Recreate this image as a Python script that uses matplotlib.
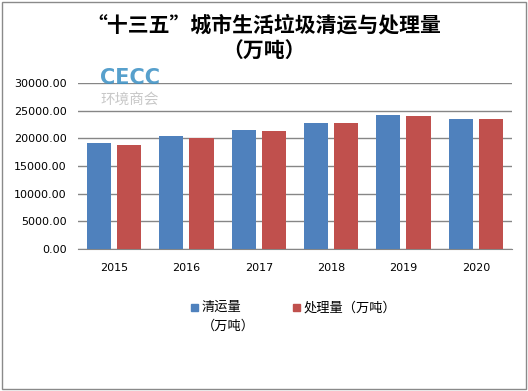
import numpy as np
import matplotlib.pyplot as plt
from matplotlib.patches import Rectangle

plt.rcParams['font.family'] = ['DejaVu Sans', 'Noto Sans CJK SC']

# --------------------
# Data
# --------------------
years = ["2015", "2016", "2017", "2018", "2019", "2020"]
collected = [19190, 20460, 21540, 22810, 24260, 23540]   # 清运量
treated = [18830, 20100, 21370, 22800, 24080, 23500]     # 处理量
series_names = ["清运量\n（万吨）", "处理量（万吨）"]
colors = ["#4F81BD", "#C0504D"]
title_lines = ["“十三五”城市生活垃圾清运与处理量", "（万吨）"]

cjk = ['Noto Sans CJK SC', 'DejaVu Sans']

# --------------------
# Plot
# --------------------
fig = plt.figure(figsize=(5.28, 3.91), dpi=100)
fig.patches.append(Rectangle((0.003, 0.004), 0.994, 0.992, transform=fig.transFigure,
                             fill=False, edgecolor="#8a8a8a", linewidth=1))

ax = fig.add_axes([0.1477, 0.3632, 0.822, 0.424])
x = np.arange(len(years))
w = 0.332
off = 0.2075
ax.bar(x - off, collected, w, color=colors[0], zorder=3)
ax.bar(x + off, treated, w, color=colors[1], zorder=3)

ax.set_xlim(-0.5, len(years) - 0.5)
ax.set_ylim(0, 30000)
ax.set_yticks(np.arange(0, 30001, 5000))
ax.set_yticklabels([f"{v:.2f}" for v in np.arange(0, 30001, 5000)], fontsize=8)
ax.set_xticks(x)
ax.set_xticklabels(years, fontsize=8)
ax.tick_params(axis='x', length=0, pad=10)
ax.tick_params(axis='y', length=0, pad=8)
ax.grid(axis='y', color="#868686", linewidth=1, zorder=0)
for s in ["left", "right", "top"]:
    ax.spines[s].set_visible(False)
ax.spines["bottom"].set_color("#868686")

fig.text(0.5, 0.935, title_lines[0], ha="center", va="center", fontsize=15,
         fontweight="bold", family=cjk)
fig.text(0.5, 0.868, title_lines[1], ha="center", va="center", fontsize=15,
         fontweight="bold", family=cjk)

# watermark logo
fig.text(0.19, 0.80, "CECC", ha="left", va="center", fontsize=15, fontweight="bold",
         color="#3a8fc4", alpha=0.85)
fig.text(0.19, 0.745, "环境商会", ha="left", va="center", fontsize=10.5, color="#c8c8c8",
         family=cjk)

# legend
leg_x = [0.362, 0.555]
for i, name in enumerate(series_names):
    fig.patches.append(Rectangle((leg_x[i], 0.204), 0.013, 0.018, transform=fig.transFigure,
                                 color=colors[i]))
lines0 = series_names[0].split("\n")
fig.text(leg_x[0] + 0.020, 0.213, lines0[0], ha="left", va="center", fontsize=9.5, family=cjk)
fig.text(leg_x[0] + 0.020, 0.166, lines0[1], ha="left", va="center", fontsize=9.5, family=cjk)
fig.text(leg_x[1] + 0.020, 0.213, series_names[1], ha="left", va="center", fontsize=9.5,
         family=cjk)

plt.savefig("out.png", dpi=100)
